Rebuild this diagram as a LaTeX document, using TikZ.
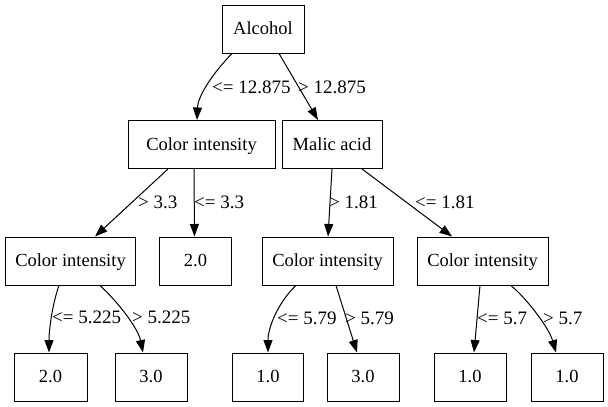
\documentclass[tikz,border=0pt]{standalone}
\usepackage{fontspec}
\setmainfont{Liberation Serif}
\usetikzlibrary{arrows.meta}
\begin{document}
\begin{tikzpicture}[x=1pt,y=-1pt,
  box/.style={draw=black,line width=1pt,minimum height=48pt,inner sep=0pt,text height=13pt,text depth=2pt,font=\fontsize{18.5}{20}\selectfont},
  lbl/.style={anchor=west,inner sep=0pt,font=\fontsize{19}{20}\selectfont},
  edge/.style={draw=black,line width=1pt,-{Triangle[length=12.5pt,width=9pt]}}]
\useasboundingbox[fill=white] (0,0) rectangle (608,407);
% nodes
\node[box,minimum width=82pt]  (alc)  at (263,29)  {Alcohol};
\node[box,minimum width=147pt] (ci1)  at (201.5,144.5) {Color intensity};
\node[box,minimum width=100pt] (mal)  at (332,144.5) {Malic acid};
\node[box,minimum width=130pt] (ci2a) at (70.5,261)  {Color intensity};
\node[box,minimum width=72pt]  (l2b)  at (195.5,261) {2.0};
\node[box,minimum width=131pt] (ci2c) at (327.5,261) {Color intensity};
\node[box,minimum width=131pt] (ci2d) at (482.5,261) {Color intensity};
\node[box,minimum width=73pt]  (l3a)  at (50.5,377) {2.0};
\node[box,minimum width=72pt]  (l3b)  at (151,377) {3.0};
\node[box,minimum width=71pt]  (l3c)  at (268,377) {1.0};
\node[box,minimum width=72pt]  (l3d)  at (363,377) {3.0};
\node[box,minimum width=72pt]  (l3e)  at (470,377) {1.0};
\node[box,minimum width=72pt]  (l3f)  at (567,377) {1.0};
% edges
\draw[edge] ([xshift=-31pt]alc.south) .. controls (214,72) and (198,95) .. ([xshift=-4.5pt]ci1.north);
\draw[edge] ([xshift=16pt]alc.south) -- ([xshift=-14pt]mal.north);
\draw[edge] ([xshift=-33.5pt]ci1.south) -- ([xshift=24.5pt]ci2a.north);
\draw[edge] ([xshift=-7.5pt]ci1.south) -- ([xshift=-1pt]l2b.north);
\draw[edge] (mal.south) -- ([xshift=0.5pt]ci2c.north);
\draw[edge] ([xshift=30pt]mal.south) -- ([xshift=-30.5pt]ci2d.north);
\draw[edge] ([xshift=-11.5pt]ci2a.south) .. controls (53,302) and (49,328) .. ([xshift=-1.5pt]l3a.north);
\draw[edge] ([xshift=29.5pt]ci2a.south) .. controls (118,302) and (138,328) .. ([xshift=-8pt]l3b.north);
\draw[edge] ([xshift=-31.5pt]ci2c.south) .. controls (281,299) and (268,325) .. (l3c.north);
\draw[edge] ([xshift=8.5pt]ci2c.south) -- ([xshift=-6pt]l3d.north);
\draw[edge] ([xshift=-2.5pt]ci2d.south) -- ([xshift=4pt]l3e.north);
\draw[edge] ([xshift=28.5pt]ci2d.south) .. controls (528,300) and (549,328) .. ([xshift=-11pt]l3f.north);
% labels
\node[lbl] (e1)  at (212,87)  {<= 12.875};
\node[lbl] (e2)  at (298,87)  {> 12.875};
\node[lbl] (e3)  at (138,202) {> 3.3};
\node[lbl] (e4)  at (194,202) {<= 3.3};
\node[lbl] (e5)  at (329,202) {> 1.81};
\node[lbl] (e6)  at (415,202) {<= 1.81};
\node[lbl] (e7)  at (52,317)  {<= 5.225};
\node[lbl] (e8)  at (132,317) {> 5.225};
\node[lbl] (e9)  at (277,318) {<= 5.79};
\node[lbl] (e10) at (345,318) {> 5.79};
\node[lbl] (e11) at (477,318) {<= 5.7};
\node[lbl] (e12) at (543,318) {> 5.7};
\end{tikzpicture}
\end{document}
